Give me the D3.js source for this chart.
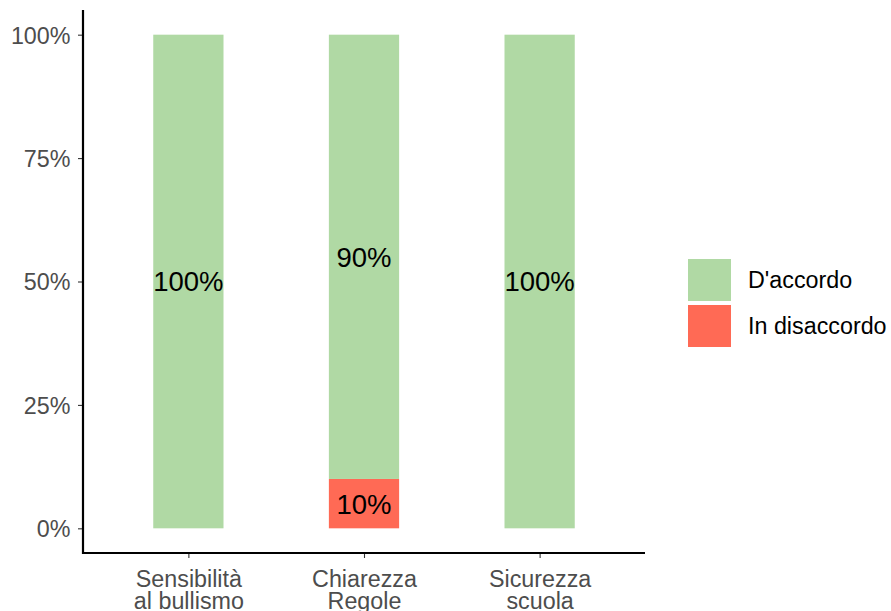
<!DOCTYPE html>
<html lang="it">
  <head>
    <meta charset="utf-8" />
    <title>Accordo</title>
    <script src="https://cdn.jsdelivr.net/npm/d3@7"></script>
    <style>
      body { margin: 0; background: #fff; }
      text { font-family: "Liberation Sans", Arial, sans-serif; }
    </style>
  </head>
  <body>
    <div id="root"></div>
    <script type="text/javascript">
      // data
      const categories = ["Sensibilità\nal bullismo", "Chiarezza\nRegole", "Sicurezza\nscuola"];
      const series = ["D'accordo", "In disaccordo"];
      const disaccordo = [0, 0.1, 0];
      const accordo = [1, 0.9, 1];
      const yTicks = [0, 0.25, 0.5, 0.75, 1];
      const colors = ["#b0d9a4", "#ff6a55"];

      const width = 891;
      const height = 611;
      const marginLeft = 83;
      const plotRight = 645;
      const plotTop = 10;
      const plotBottom = 553;
      const axisFont = 23.3;

      const svg = d3.select("#root").append("svg")
        .attr("width", width)
        .attr("height", height);

      // x: ggplot style discrete scale, 0.6 expansion each side
      const xScale = d3.scaleLinear()
        .domain([0.4, categories.length + 0.6])
        .range([marginLeft, plotRight]);
      const barW = xScale(1.4) - xScale(1);

      // y: 0..1 with 5% expansion
      const yScale = d3.scaleLinear()
        .domain([-0.05, 1.05])
        .range([plotBottom, plotTop]);

      // stacked rows: disaccordo at bottom, accordo on top
      const rows = categories.map((c, i) => ({
        i: i,
        segs: [
          { key: series[1], y0: 0, y1: disaccordo[i], v: disaccordo[i], col: colors[1] },
          { key: series[0], y0: disaccordo[i], y1: disaccordo[i] + accordo[i], v: accordo[i], col: colors[0] }
        ]
      }));

      const bars = svg.append("g");
      rows.forEach(r => {
        r.segs.filter(s => s.v > 0).forEach(s => {
          bars.append("rect")
            .attr("x", xScale(r.i + 1) - barW / 2)
            .attr("width", barW)
            .attr("y", yScale(s.y1))
            .attr("height", yScale(s.y0) - yScale(s.y1))
            .attr("fill", s.col);
        });
      });
      rows.forEach(r => {
        r.segs.filter(s => s.v > 0).forEach(s => {
          bars.append("text")
            .attr("x", xScale(r.i + 1))
            .attr("y", yScale((s.y0 + s.y1) / 2))
            .attr("dy", "0.36em")
            .attr("text-anchor", "middle")
            .attr("font-size", 27.5)
            .attr("fill", "#000")
            .text(Math.round(s.v * 100) + "%");
        });
      });

      // y axis
      const yAxis = svg.append("g")
        .attr("transform", `translate(${marginLeft},0)`)
        .call(d3.axisLeft(yScale).tickValues(yTicks).tickSize(5).tickPadding(7.5)
          .tickFormat(d => Math.round(d * 100) + "%"));
      yAxis.select(".domain").remove();
      yAxis.selectAll(".tick line").attr("stroke", "#333").attr("stroke-width", 1.1);
      yAxis.selectAll(".tick text")
        .attr("font-size", axisFont)
        .attr("font-family", "Liberation Sans, Arial, sans-serif")
        .attr("fill", "#4d4d4d")
        .attr("dy", "0.36em");
      svg.append("line")
        .attr("x1", marginLeft).attr("x2", marginLeft)
        .attr("y1", plotTop).attr("y2", plotBottom + 1)
        .attr("stroke", "#000").attr("stroke-width", 2.2);

      // x axis
      const xAxis = svg.append("g")
        .attr("transform", `translate(0,${plotBottom})`)
        .call(d3.axisBottom(xScale).tickValues(categories.map((c, i) => i + 1)).tickSize(5).tickFormat(""));
      xAxis.select(".domain").remove();
      xAxis.selectAll(".tick line").attr("stroke", "#333").attr("stroke-width", 1.1);
      xAxis.selectAll(".tick").each(function (d) {
        const lines = categories[d - 1].split("\n");
        const t = d3.select(this).append("text")
          .attr("text-anchor", "middle")
          .attr("font-size", axisFont)
          .attr("font-family", "Liberation Sans, Arial, sans-serif")
          .attr("fill", "#4d4d4d");
        lines.forEach((l, k) => {
          t.append("tspan").attr("x", 0).attr("y", 34 + k * 22).text(l);
        });
      });
      svg.append("line")
        .attr("x1", marginLeft - 1).attr("x2", plotRight)
        .attr("y1", plotBottom).attr("y2", plotBottom)
        .attr("stroke", "#000").attr("stroke-width", 2.2);

      // legend
      const legend = svg.append("g").attr("transform", "translate(688,259)");
      series.forEach((s, k) => {
        legend.append("rect")
          .attr("x", 0).attr("y", k * 46)
          .attr("width", 43).attr("height", 42)
          .attr("fill", colors[k]);
        legend.append("text")
          .attr("x", 60).attr("y", k * 46 + 21)
          .attr("dy", "0.36em")
          .attr("font-size", axisFont)
          .attr("fill", "#000")
          .text(s);
      });
    </script>
  </body>
</html>
